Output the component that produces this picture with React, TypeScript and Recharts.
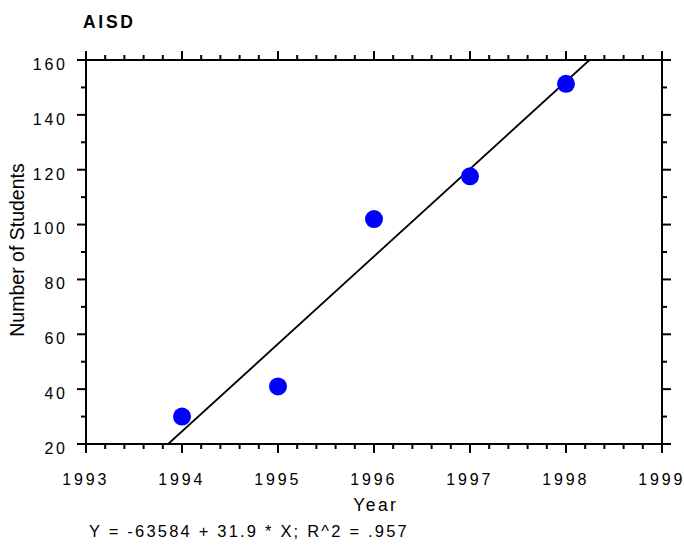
import React from 'react';
import { ScatterChart, Scatter, XAxis, YAxis } from 'recharts';

const years = [1994, 1995, 1996, 1997, 1998];
const students = [30.0, 41.0, 102.0, 117.6, 151.3];
const xTicks = [1993, 1993.2, 1993.4, 1993.6, 1993.8, 1994, 1994.2, 1994.4, 1994.6, 1994.8, 1995, 1995.2, 1995.4, 1995.6, 1995.8, 1996, 1996.2, 1996.4, 1996.6, 1996.8, 1997, 1997.2, 1997.4, 1997.6, 1997.8, 1998, 1998.2, 1998.4, 1998.6, 1998.8, 1999];
const xMajor = [1993, 1994, 1995, 1996, 1997, 1998, 1999];
const yTicks = [20, 30, 40, 50, 60, 70, 80, 90, 100, 110, 120, 130, 140, 150, 160];
const yMajor = [20, 40, 60, 80, 100, 120, 140, 160];
const intercept = -63584;
const slope = 31.9;
const r2 = '.957';
const title = 'AISD';
const xTitle = 'Year';
const yTitle = 'Number of Students';

const points = years.map((y, i) => ({ x: y, y: students[i] }));
const yMin = 20;
const yMax = 160;
const fitLine = [
  { x: (yMin - intercept) / slope, y: yMin },
  { x: (yMax - intercept) / slope, y: yMax },
];
const equation = `Y = ${intercept} + ${slope} * X; R^2 = ${r2}`;

const FONT = '"Liberation Sans", Arial, sans-serif';
const MAJ = 9;
const MIN = 5;

const isMajorX = (v: number) => xMajor.some((m) => Math.abs(m - v) < 1e-6);
const isMajorY = (v: number) => yMajor.some((m) => Math.abs(m - v) < 1e-6);

const BottomTick = (props: any) => {
  const { x, y, payload } = props;
  const v = payload.value;
  const major = isMajorX(v);
  return (
    <g>
      <line x1={x} x2={x} y1={y} y2={y + (major ? MAJ : MIN)} stroke="#000" strokeWidth={2} />
      {major && (
        <text x={x - 0.3} y={y + 41} textAnchor="middle" fontFamily={FONT} fontSize={16} letterSpacing={2.8} fill="#000">
          {Math.round(v)}
        </text>
      )}
    </g>
  );
};

const TopTick = (props: any) => {
  const { x, y, payload } = props;
  const major = isMajorX(payload.value);
  return <line x1={x} x2={x} y1={y} y2={y - (major ? MAJ : MIN)} stroke="#000" strokeWidth={2} />;
};

const LeftTick = (props: any) => {
  const { x, y, payload } = props;
  const v = payload.value;
  const major = isMajorY(v);
  return (
    <g>
      <line x1={x} x2={x - (major ? MAJ : MIN)} y1={y} y2={y} stroke="#000" strokeWidth={2} />
      {major && (
        <text x={x - 18.2} y={y + 9.8} textAnchor="end" fontFamily={FONT} fontSize={16} letterSpacing={2.8} fill="#000">
          {v}
        </text>
      )}
    </g>
  );
};

const RightTick = (props: any) => {
  const { x, y, payload } = props;
  const major = isMajorY(payload.value);
  return <line x1={x} x2={x + (major ? MAJ : MIN)} y1={y} y2={y} stroke="#000" strokeWidth={2} />;
};

const Dot = (props: any) => <circle cx={props.cx} cy={props.cy} r={9} fill="#0000FF" />;
const NoDot = () => <g />;

export default function App() {
  const axisLine = { stroke: '#000', strokeWidth: 2 };
  return (
    <div style={{ position: 'absolute', left: 0, top: 0, width: 684, height: 548, background: '#fff' }}>
      <ScatterChart width={684} height={548} margin={{ top: 50, right: 12, bottom: 74, left: 46 }}>
        <XAxis
          type="number"
          dataKey="x"
          domain={[1993, 1999]}
          ticks={xTicks}
          interval={0}
          tickSize={0}
          tickMargin={0}
          tickLine={false}
          axisLine={axisLine}
          tick={<BottomTick />}
          height={30}
          allowDataOverflow
        />
        <XAxis
          xAxisId="top"
          orientation="top"
          type="number"
          dataKey="x"
          domain={[1993, 1999]}
          ticks={xTicks}
          interval={0}
          tickSize={0}
          tickMargin={0}
          tickLine={false}
          axisLine={axisLine}
          tick={<TopTick />}
          height={10}
          allowDataOverflow
        />
        <YAxis
          type="number"
          dataKey="y"
          domain={[yMin, yMax]}
          ticks={yTicks}
          interval={0}
          tickSize={0}
          tickMargin={0}
          tickLine={false}
          axisLine={axisLine}
          tick={<LeftTick />}
          width={40}
          allowDataOverflow
        />
        <YAxis
          yAxisId="right"
          orientation="right"
          type="number"
          dataKey="y"
          domain={[yMin, yMax]}
          ticks={yTicks}
          interval={0}
          tickSize={0}
          tickMargin={0}
          tickLine={false}
          axisLine={axisLine}
          tick={<RightTick />}
          width={10}
          allowDataOverflow
        />
        <Scatter
          data={fitLine}
          line={{ stroke: '#000', strokeWidth: 1.8 }}
          lineType="joint"
          shape={<NoDot />}
          isAnimationActive={false}
        />
        <Scatter data={points} shape={<Dot />} isAnimationActive={false} />
      </ScatterChart>
      <svg width={684} height={548} style={{ position: 'absolute', left: 0, top: 0, pointerEvents: 'none' }}>
        <text x={83} y={27.7} fontFamily={FONT} fontSize={17.5} fontWeight="bold" letterSpacing={2.7} fill="#000">
          {title}
        </text>
        <text
          x={0}
          y={0}
          transform="translate(23.5,250) rotate(-90)"
          textAnchor="middle"
          fontFamily={FONT}
          fontSize={19.5}
          fill="#000"
        >
          {yTitle}
        </text>
        <text x={375.8} y={511} textAnchor="middle" fontFamily={FONT} fontSize={17.5} letterSpacing={2.4} fill="#000">
          {xTitle}
        </text>
        <text x={89} y={536.5} fontFamily={FONT} fontSize={16.5} letterSpacing={2.2} fill="#000">
          {equation}
        </text>
      </svg>
    </div>
  );
}
